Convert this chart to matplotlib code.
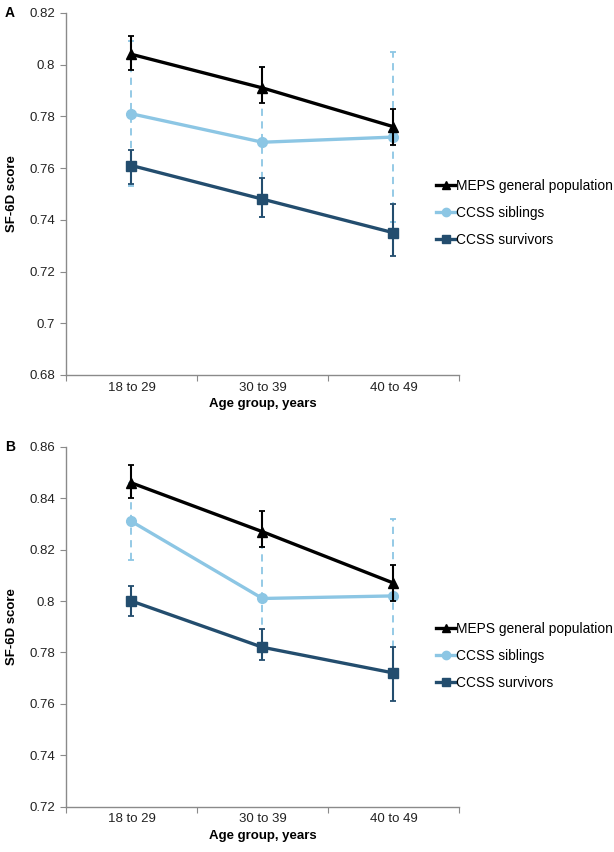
import matplotlib
matplotlib.use("Agg")
import matplotlib.pyplot as plt
from matplotlib.lines import Line2D

plt.rcParams['font.family'] = ['Liberation Sans', 'DejaVu Sans']

categories = ["18 to 29", "30 to 39", "40 to 49"]
series_names = ["MEPS general population", "CCSS siblings", "CCSS survivors"]

# Panel A
a_meps = [0.804, 0.791, 0.776]
a_meps_lo = [0.798, 0.785, 0.769]
a_meps_hi = [0.811, 0.799, 0.783]
a_sib = [0.781, 0.770, 0.772]
a_sib_lo = [0.753, 0.741, 0.739]
a_sib_hi = [0.809, 0.799, 0.805]
a_surv = [0.761, 0.748, 0.735]
a_surv_lo = [0.754, 0.741, 0.726]
a_surv_hi = [0.767, 0.756, 0.746]

# Panel B
b_meps = [0.846, 0.827, 0.807]
b_meps_lo = [0.840, 0.821, 0.800]
b_meps_hi = [0.853, 0.835, 0.814]
b_sib = [0.831, 0.801, 0.802]
b_sib_lo = [0.816, 0.781, 0.772]
b_sib_hi = [0.846, 0.821, 0.832]
b_surv = [0.800, 0.782, 0.772]
b_surv_lo = [0.794, 0.777, 0.761]
b_surv_hi = [0.806, 0.789, 0.782]

a_yticks = [0.68, 0.7, 0.72, 0.74, 0.76, 0.78, 0.8, 0.82]
a_yticklabels = ["0.68", "0.7", "0.72", "0.74", "0.76", "0.78", "0.8", "0.82"]
b_yticks = [0.72, 0.74, 0.76, 0.78, 0.8, 0.82, 0.84, 0.86]
b_yticklabels = ["0.72", "0.74", "0.76", "0.78", "0.8", "0.82", "0.84", "0.86"]

C_MEPS = "#000000"
C_SIB = "#8cc6e4"
C_SURV = "#234d6e"
AXC = "#8a8a8a"

fig = plt.figure(figsize=(6.14, 8.52), dpi=100)

def panel(rect, meps, mlo, mhi, sib, slo, shi, surv, vlo, vhi, yticks, ylabels, letter, leg_y):
    ax = fig.add_axes(rect)
    x = [i + 0.5 for i in range(len(categories))]

    def err(vals, lo, hi):
        return [[v - l for v, l in zip(vals, lo)], [h - v for v, h in zip(vals, hi)]]

    eb = ax.errorbar(x, sib, yerr=err(sib, slo, shi), color=C_SIB, lw=2.4,
                     marker='o', ms=7, capsize=2.5, elinewidth=1.3, capthick=1.3, zorder=2)
    for b in eb[2]:
        b.set_linestyle((0, (4, 3)))
    ax.errorbar(x, surv, yerr=err(surv, vlo, vhi), color=C_SURV, lw=2.4,
                marker='s', ms=7, capsize=2.5, elinewidth=1.5, capthick=1.3, zorder=3)
    ax.errorbar(x, meps, yerr=err(meps, mlo, mhi), color=C_MEPS, lw=2.4,
                marker='^', ms=7.5, capsize=2.5, elinewidth=1.5, capthick=1.3, zorder=4)

    ax.set_xlim(0, 3)
    ax.set_ylim(yticks[0], yticks[-1])
    ax.set_yticks(yticks)
    ax.set_yticklabels(ylabels, fontsize=9.5, color="#222222")
    ax.set_xticks([0, 1, 2, 3])
    ax.set_xticklabels([])
    ax.set_xticks(x, minor=True)
    ax.set_xticklabels(categories, minor=True, fontsize=9.5, color="#222222")
    ax.tick_params(axis='x', which='minor', length=0, pad=5)
    ax.tick_params(axis='x', which='major', length=4, color=AXC, direction='out')
    ax.tick_params(axis='y', length=4, color=AXC, direction='out', pad=4)
    for s in ['top', 'right']:
        ax.spines[s].set_visible(False)
    for s in ['left', 'bottom']:
        ax.spines[s].set_color(AXC)
        ax.spines[s].set_linewidth(1.0)
    ax.set_xlabel("Age group, years", fontsize=9.5, fontweight='bold', labelpad=3)
    ax.set_ylabel("SF-6D score", fontsize=9.5, fontweight='bold', labelpad=8)
    ax.text(-0.155, 1.0, letter, transform=ax.transAxes, fontsize=10, fontweight='bold',
            ha='left', va='center')

    handles = [
        Line2D([], [], color=C_MEPS, lw=2.4, marker='^', ms=6),
        Line2D([], [], color=C_SIB, lw=2.4, marker='o', ms=6),
        Line2D([], [], color=C_SURV, lw=2.4, marker='s', ms=6),
    ]
    ax.legend(handles, series_names, loc='center left', bbox_to_anchor=(0.925, leg_y),
              frameon=False, fontsize=9.9, handlelength=1.35, handletextpad=0.1,
              labelspacing=0.95, borderpad=0)
    return ax

panel([0.1075, 0.5599, 0.640, 0.4249], a_meps, a_meps_lo, a_meps_hi, a_sib, a_sib_lo, a_sib_hi,
      a_surv, a_surv_lo, a_surv_hi, a_yticks, a_yticklabels, "A", 0.4475)
panel([0.1075, 0.0534, 0.640, 0.4220], b_meps, b_meps_lo, b_meps_hi, b_sib, b_sib_lo, b_sib_hi,
      b_surv, b_surv_lo, b_surv_hi, b_yticks, b_yticklabels, "B", 0.4186)

fig.savefig("out.png", dpi=100)
